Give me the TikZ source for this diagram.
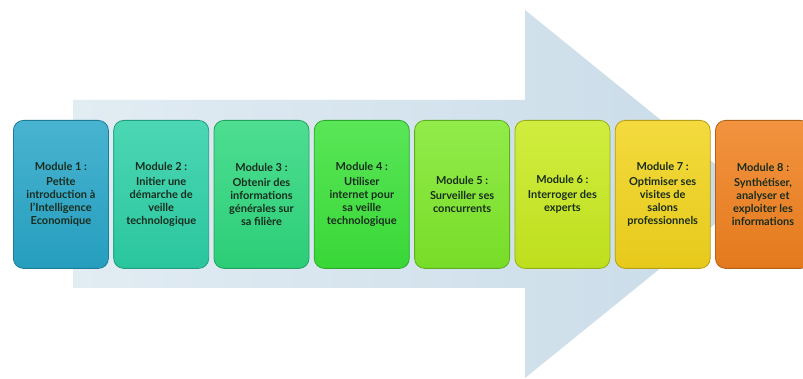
\documentclass[tikz,border=0pt]{standalone}
\usepackage{fontspec}
\setmainfont{Lato}
\definecolor{arrowfill}{RGB}{200,219,232}
\definecolor{arrowlight}{RGB}{226,236,243}
\definecolor{txt}{RGB}{25,45,30}
\definecolor{cA}{RGB}{40,166,200}
\definecolor{cB}{RGB}{44,208,166}
\definecolor{cC}{RGB}{46,216,126}
\definecolor{cD}{RGB}{60,226,58}
\definecolor{cE}{RGB}{126,232,42}
\definecolor{cF}{RGB}{200,234,30}
\definecolor{cG}{RGB}{242,212,28}
\definecolor{cH}{RGB}{240,128,30}
\tikzset{
  modbox/.style={draw=#1!75!black, line width=0.8pt, rounded corners=10pt,
    top color=#1!85!white, bottom color=#1!95!black, shading angle=0,
    minimum width=95pt, minimum height=148pt, inner sep=0pt,
    align=center, font=\bfseries\fontsize{11}{13.2}\selectfont, text=txt, anchor=north west}
}
\begin{document}
\begin{tikzpicture}[x=1pt,y=-1pt]
\useasboundingbox (0,0) rectangle (803,379);
\fill[white] (0,0) rectangle (803,379);
\shade[left color=arrowlight, right color=arrowfill] (73,100) -- (525,100) -- (525,10) -- (752,194) -- (525,378) -- (525,288) -- (73,288) -- cycle;
\node[modbox=cA] (m1) at (13,120) {Module 1 :\\[2pt]Petite\\introduction à\\l'Intelligence\\Economique};
\node[modbox=cB] (m2) at (113.3,120) {Module 2 :\\[2pt]Initier une\\démarche de\\veille\\technologique};
\node[modbox=cC] (m3) at (213.6,120) {Module 3 :\\[2pt]Obtenir des\\informations\\générales sur\\sa filière};
\node[modbox=cD] (m4) at (313.9,120) {Module 4 :\\[2pt]Utiliser\\internet pour\\sa veille\\technologique};
\node[modbox=cE] (m5) at (414.2,120) {Module 5 :\\[2pt]Surveiller ses\\concurrents};
\node[modbox=cF] (m6) at (514.5,120) {Module 6 :\\[2pt]Interroger des\\experts};
\node[modbox=cG] (m7) at (614.8,120) {Module 7 :\\[2pt]Optimiser ses\\visites de\\salons\\professionnels};
\node[modbox=cH] (m8) at (715.1,120) {Module 8 :\\[2pt]Synthétiser,\\analyser et\\exploiter les\\informations};
\end{tikzpicture}
\end{document}
